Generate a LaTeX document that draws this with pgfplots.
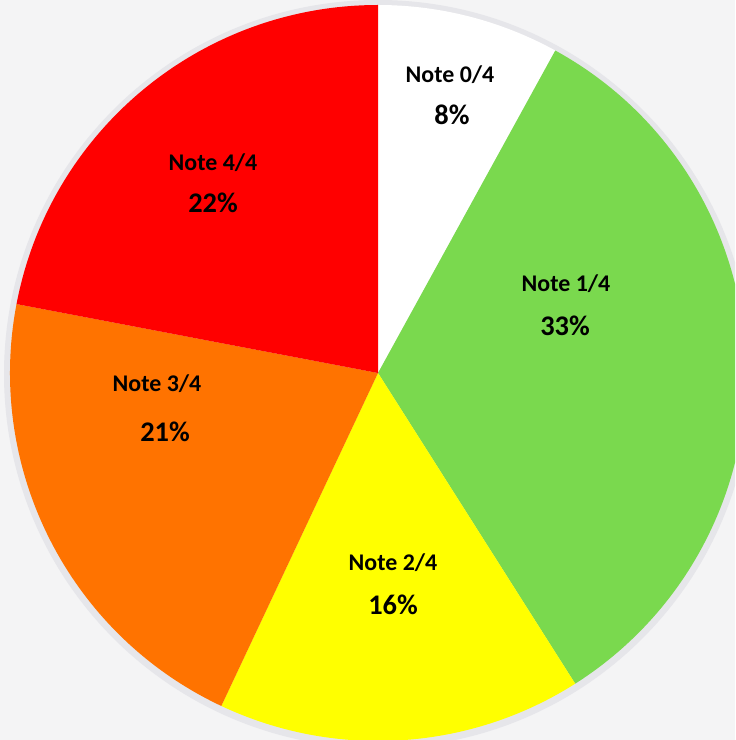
\documentclass[border=0pt]{standalone}
\usepackage{pgfplots}
\usepackage{pgfplotstable}
\usepackage{fontspec}
\setmainfont{Carlito}
\pgfplotsset{compat=1.18}

\definecolor{bg}{RGB}{244,244,245}
\definecolor{shadow}{RGB}{230,230,234}
\definecolor{s0}{RGB}{255,255,255}
\definecolor{s1}{RGB}{122,217,78}
\definecolor{s2}{RGB}{255,255,0}
\definecolor{s3}{RGB}{255,115,0}
\definecolor{s4}{RGB}{255,0,0}

% share of each grade, in percent, clockwise from 12 o'clock
\pgfplotstableread{
idx pct
0 8
1 33
2 16
3 21
4 22
}\pietable
\pgfplotstablecreatecol[create col/expr accum={\pgfmathaccuma + \thisrow{pct}}{0}]{cum}{\pietable}

\begin{document}
\begin{tikzpicture}
\begin{axis}[
    width=735bp, height=740bp,
    scale only axis,
    xmin=0, xmax=735, ymin=0, ymax=740,
    hide axis,
    clip=true,
]
  \fill[bg] (axis cs:0,0) rectangle (axis cs:735,740);
  \fill[shadow] (axis cs:378,366) circle[radius=374];
  \pgfplotsinvokeforeach{0,...,4}{
    \pgfplotstablegetelem{#1}{cum}\of\pietable
    \pgfmathsetmacro{\cend}{\pgfplotsretval}
    \pgfplotstablegetelem{#1}{pct}\of\pietable
    \pgfmathsetmacro{\aend}{90-3.6*\cend}
    \pgfmathsetmacro{\astart}{90-3.6*(\cend-\pgfplotsretval)}
    \edef\temp{\noexpand\fill[s#1] (axis cs:378,367) -- ++(\astart:368) arc[start angle=\astart, end angle=\aend, radius=368] -- cycle;}
    \temp
  }
  \tikzset{lab/.style={font=\bfseries\fontsize{24}{27}\selectfont},
           pct/.style={font=\bfseries\fontsize{28.5}{31}\selectfont}}
  \node[lab] at (axis cs:450,665) {Note 0/4};
  \node[pct] at (axis cs:452,625) {8\%};
  \node[lab] at (axis cs:566,456) {Note 1/4};
  \node[pct] at (axis cs:565,414) {33\%};
  \node[lab] at (axis cs:393,177) {Note 2/4};
  \node[pct] at (axis cs:393,135) {16\%};
  \node[lab] at (axis cs:157,356) {Note 3/4};
  \node[pct] at (axis cs:165,308) {21\%};
  \node[lab] at (axis cs:213,577) {Note 4/4};
  \node[pct] at (axis cs:213,537) {22\%};
\end{axis}
\end{tikzpicture}
\end{document}
